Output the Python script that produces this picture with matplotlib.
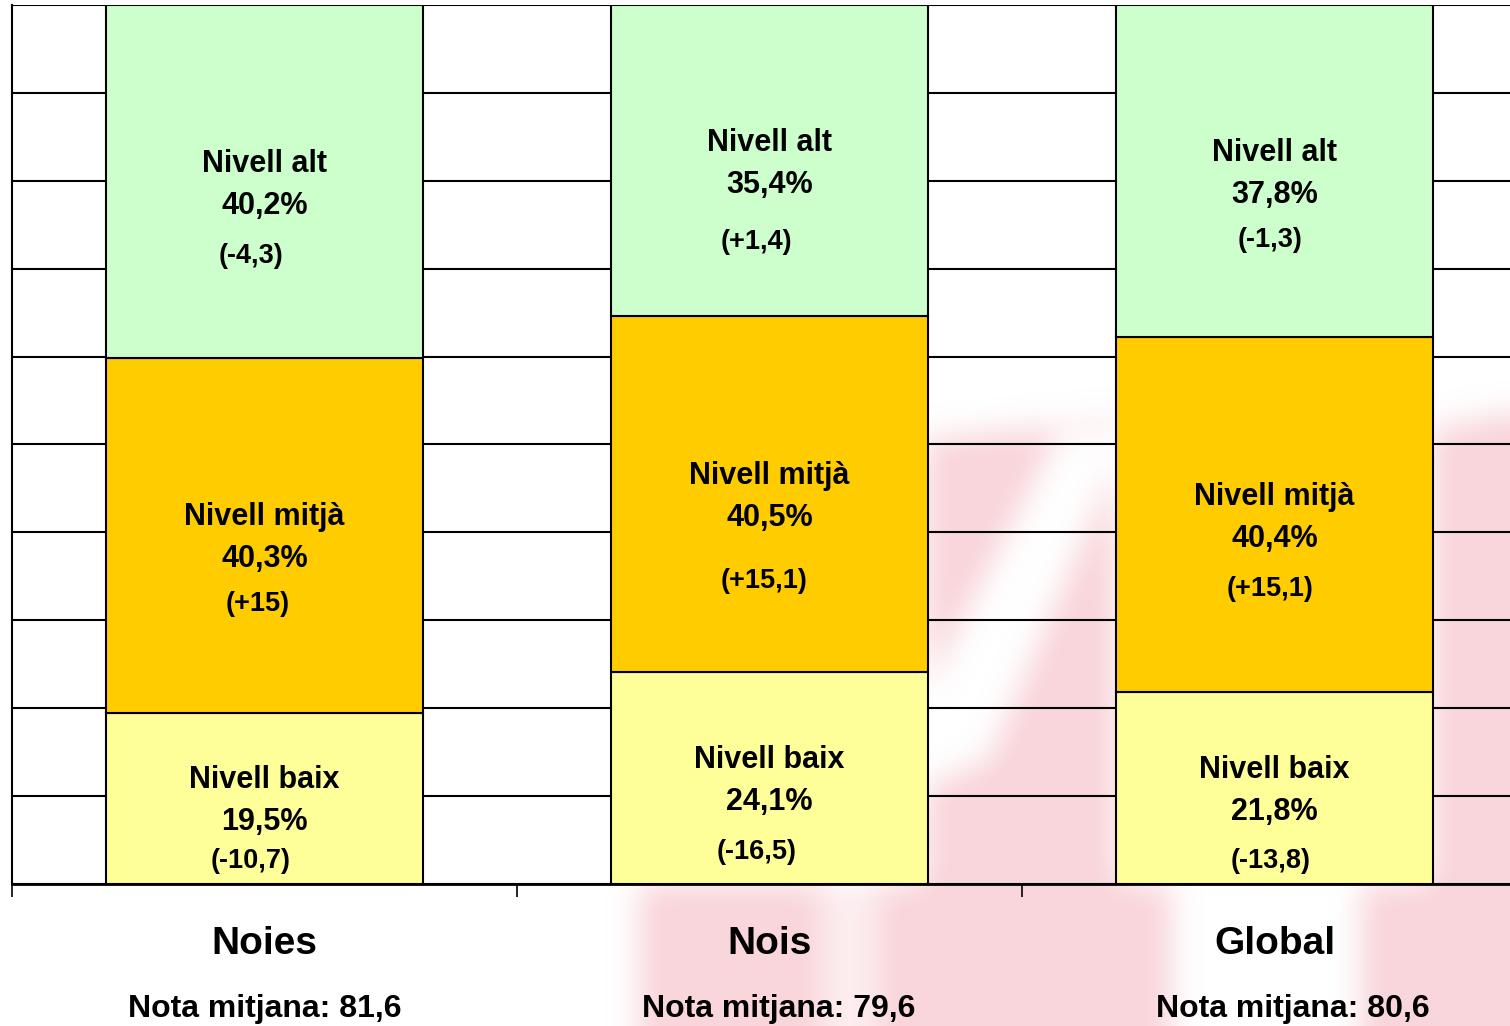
import matplotlib
matplotlib.use("Agg")
import matplotlib.pyplot as plt
from matplotlib.path import Path
import numpy as np

categories = ["Noies", "Nois", "Global"]
mean_marks = ["81,6", "79,6", "80,6"]
levels = ["Nivell baix", "Nivell mitjà", "Nivell alt"]
baix = [19.5, 24.1, 21.8]
mitja = [40.3, 40.5, 40.4]
alt = [40.2, 35.4, 37.8]
baix_change = ["(-10,7)", "(-16,5)", "(-13,8)"]
mitja_change = ["(+15)", "(+15,1)", "(+15,1)"]
alt_change = ["(-4,3)", "(+1,4)", "(-1,3)"]

colors = ["#FFFF99", "#FFCC00", "#CCFFCC"]

# layout (pixels): gap of the change line below the percentage line,
# and its horizontal shift, per category [baix, mitja, alt]
change_gap = [[39, 45, 50], [50, 63, 57], [49, 50, 45]]
change_dx = [[-14, -7, -14], [-13, -5, -13], [-4, -4, -4]]

W, H = 1510, 1026
fig = plt.figure(figsize=(W / 100, H / 100), dpi=100)
fig.patch.set_facecolor("white")

# ---- faint blurred watermark in the background ----
yy, xx = np.mgrid[0:H, 0:W]
pts = np.column_stack([xx.ravel() + 0.5, yy.ravel() + 0.5])

def poly_mask(poly):
    return Path(poly).contains_points(pts).reshape(H, W).astype(float)

mask = np.zeros((H, W))
mask = np.maximum(mask, poly_mask([(926, 440), (1116, 420), (1116, 884), (926, 884)]))
mask = np.maximum(mask, poly_mask([(1432, 430), (1530, 410), (1530, 1040), (1432, 1040)]))
mask = np.maximum(mask, poly_mask([(640, 884), (1170, 884), (1170, 1040), (640, 1040)]))
mask = np.maximum(mask, poly_mask([(1362, 884), (1530, 884), (1530, 1040), (1362, 1040)]))
stripe = poly_mask([(1060, 430), (1130, 430), (990, 760), (920, 790), (920, 700)])
mask = mask * (1 - stripe)
stripe2 = poly_mask([(820, 884), (880, 884), (880, 1040), (820, 1040)])
mask = mask * (1 - 0.6 * stripe2)

def box_blur(a, r):
    for axis in (0, 1):
        c = np.cumsum(np.pad(a, [(r + 1, r) if i == axis else (0, 0) for i in range(2)],
                             mode="edge"), axis=axis)
        n = a.shape[axis]
        if axis == 0:
            a = (c[2 * r + 1:2 * r + 1 + n, :] - c[0:n, :]) / (2 * r + 1)
        else:
            a = (c[:, 2 * r + 1:2 * r + 1 + n] - c[:, 0:n]) / (2 * r + 1)
    return a

for _ in range(3):
    mask = box_blur(mask, 14)

img = np.zeros((H, W, 4))
img[..., 0] = 249 / 255
img[..., 1] = 214 / 255
img[..., 2] = 219 / 255
img[..., 3] = np.clip(mask * 1.05, 0, 1)
fig.figimage(img, xo=0, yo=0, origin="upper", zorder=-1)

# ---- chart ----
left_px, right_px = 12, 1527
top_px, bottom_px = 5, 884
ax = fig.add_axes([left_px / W, 1 - bottom_px / H,
                   (right_px - left_px) / W, (bottom_px - top_px) / H])
ax.set_facecolor("none")
ax.set_xlim(-0.5, 2.5)
ax.set_ylim(0, 100)

x = np.arange(len(categories))
width = 0.626
series = [baix, mitja, alt]
changes = [baix_change, mitja_change, alt_change]
bottoms = np.zeros(len(categories))
for si, vals in enumerate(series):
    ax.bar(x, vals, width, bottom=bottoms, color=colors[si],
           edgecolor="black", linewidth=1.5, zorder=3)
    bottoms = bottoms + np.array(vals)

ax.set_yticks(np.arange(0, 101, 10))
ax.yaxis.grid(True, color="black", linewidth=1.5, zorder=1)
ax.set_axisbelow(True)
ax.tick_params(axis="y", left=False, labelleft=False)
ax.set_xticks([-0.5, 0.5, 1.5, 2.5])
ax.set_xticklabels([])
ax.tick_params(axis="x", direction="out", length=9, width=1.2, color="black")
for s in ["top", "right"]:
    ax.spines[s].set_visible(False)
ax.spines["bottom"].set_linewidth(2)
ax.spines["left"].set_linewidth(1.5)
ax.spines["left"].set_bounds(0, 100)

fam = ["Liberation Sans", "DejaVu Sans"]
to_pt = 72 / 100.0
bottoms = np.zeros(len(categories))
for si, vals in enumerate(series):
    for ci in range(len(categories)):
        center = bottoms[ci] + vals[ci] / 2
        ax.annotate(levels[si], (x[ci], center), xytext=(0, 18 * to_pt),
                    textcoords="offset points", ha="center", va="center",
                    fontsize=22, fontweight="bold", family=fam, zorder=5)
        pct = f"{vals[ci]:.1f}".replace(".", ",") + "%"
        ax.annotate(pct, (x[ci], center), xytext=(0, -24 * to_pt),
                    textcoords="offset points", ha="center", va="center",
                    fontsize=22, fontweight="bold", family=fam, zorder=5)
        g = change_gap[ci][si]
        ax.annotate(changes[si][ci], (x[ci], center),
                    xytext=(change_dx[ci][si] * to_pt, -(24 + g) * to_pt),
                    textcoords="offset points", ha="center", va="center",
                    fontsize=19.5, fontweight="bold", family=fam, zorder=5)
    bottoms = bottoms + np.array(vals)

for ci, cat in enumerate(categories):
    xf = (left_px + (x[ci] + 0.5) * (right_px - left_px) / 3) / W
    fig.text(xf, 1 - 944 / H, cat, ha="center", va="center",
             fontsize=28, fontweight="bold", family=fam)
    fig.text(xf + 0.006 * ci, 1 - 1009 / H, "Nota mitjana: " + mean_marks[ci],
             ha="center", va="center", fontsize=23, fontweight="bold", family=fam)

fig.savefig("out.png", dpi=100, facecolor="white")
